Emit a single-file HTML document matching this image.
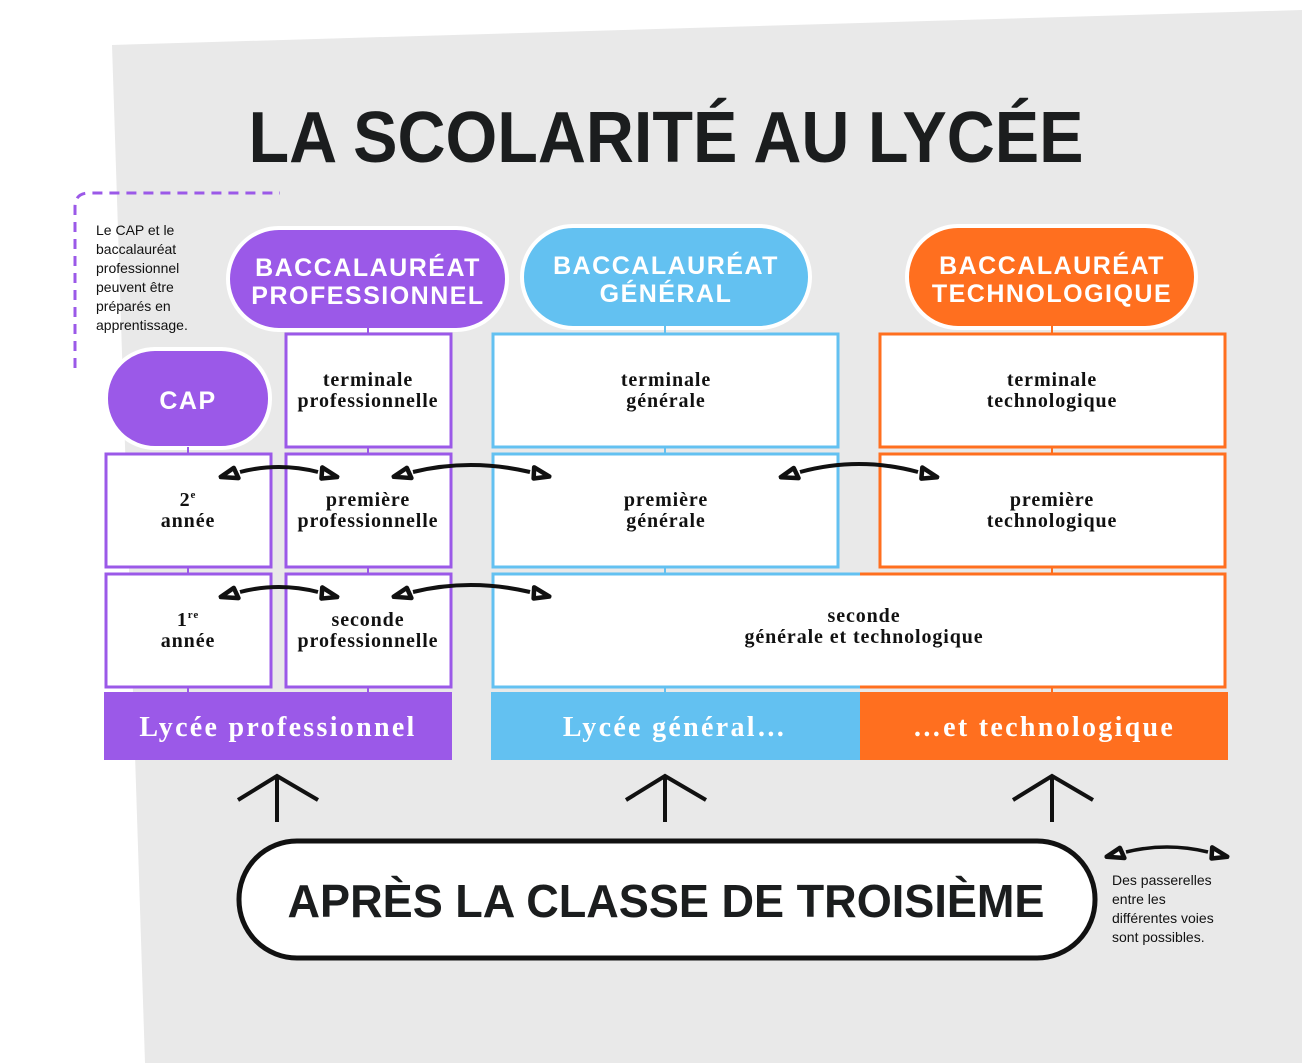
<!DOCTYPE html>
<html><head><meta charset="utf-8"><style>
html,body{margin:0;padding:0;background:#fff;}
svg{display:block;}
.t{font-family:"Liberation Sans",sans-serif;font-weight:bold;}
.s{font-family:"Liberation Serif",serif;font-weight:bold;font-size:20px;fill:#111;text-anchor:middle;letter-spacing:0.9px;}
.p{font-family:"Liberation Sans",sans-serif;font-weight:bold;font-size:25px;fill:#fff;text-anchor:middle;letter-spacing:1.5px;}
.n{font-family:"Liberation Sans",sans-serif;font-size:14px;fill:#111;}
</style></head><body>
<svg width="1302" height="1063" viewBox="0 0 1302 1063" xmlns="http://www.w3.org/2000/svg">
<defs>
<marker id="h" viewBox="0 0 24 16" refX="2" refY="8" markerWidth="24" markerHeight="16" markerUnits="userSpaceOnUse" orient="auto-start-reverse">
<polygon points="22,8 5,2.5 7,13.5" fill="#fff" stroke="#111" stroke-width="4.5" stroke-linejoin="round"/>
</marker>
</defs>
<polygon points="112,45 1302,10 1302,1063 145,1063" fill="#e9e9e9"/>
<text x="666" y="162" class="t" font-size="72" text-anchor="middle" fill="#1b1d1e" textLength="835" lengthAdjust="spacingAndGlyphs">LA SCOLARITÉ AU LYCÉE</text>

<path d="M75,368 V207 Q75,193 89,193 H280" fill="none" stroke="#9b59e8" stroke-width="3" stroke-dasharray="10,7"/>
<g class="n">
<text x="96" y="235">Le CAP et le</text>
<text x="96" y="254">baccalauréat</text>
<text x="96" y="273">professionnel</text>
<text x="96" y="292">peuvent être</text>
<text x="96" y="311">préparés en</text>
<text x="96" y="330">apprentissage.</text>
</g>

<rect x="228" y="228" width="279" height="102" rx="51" fill="#9b59e8" stroke="#fff" stroke-width="4"/>
<text x="368" y="276" class="p">BACCALAURÉAT</text>
<text x="368" y="304" class="p">PROFESSIONNEL</text>
<rect x="522" y="226" width="288" height="102" rx="51" fill="#63c1f1" stroke="#fff" stroke-width="4"/>
<text x="666" y="274" class="p">BACCALAURÉAT</text>
<text x="666" y="302" class="p">GÉNÉRAL</text>
<rect x="907" y="226" width="289" height="102" rx="51" fill="#ff6f1f" stroke="#fff" stroke-width="4"/>
<text x="1052" y="274" class="p">BACCALAURÉAT</text>
<text x="1052" y="302" class="p">TECHNOLOGIQUE</text>
<rect x="106" y="349" width="164" height="99" rx="49" fill="#9b59e8" stroke="#fff" stroke-width="4"/>
<text x="188" y="409" class="p" font-size="26">CAP</text>

<g fill="#fff" stroke-width="3">
<rect x="286" y="334" width="165" height="113" stroke="#9b59e8"/>
<rect x="106" y="454" width="165" height="113" stroke="#9b59e8"/>
<rect x="286" y="454" width="165" height="113" stroke="#9b59e8"/>
<rect x="106" y="574" width="165" height="113" stroke="#9b59e8"/>
<rect x="286" y="574" width="165" height="113" stroke="#9b59e8"/>
<rect x="493" y="334" width="345" height="113" stroke="#63c1f1"/>
<rect x="493" y="454" width="345" height="113" stroke="#63c1f1"/>
<rect x="880" y="334" width="345" height="113" stroke="#ff6f1f"/>
<rect x="880" y="454" width="345" height="113" stroke="#ff6f1f"/>
<rect x="493" y="574" width="732" height="113" stroke="none"/>
</g>
<g fill="none" stroke-width="3">
<path d="M860,574 H493 V687 H860" stroke="#63c1f1"/>
<path d="M860,574 H1225 V687 H860" stroke="#ff6f1f"/>
</g>
<g stroke-width="2">
<path d="M188,447 V454 M188,567 V574 M188,687 V692 M368,328 V334 M368,447 V454 M368,567 V574 M368,687 V692" stroke="#9b59e8"/>
<path d="M665,326 V334 M665,447 V454 M665,567 V574 M665,687 V692" stroke="#63c1f1"/>
<path d="M1052,326 V334 M1052,447 V454 M1052,567 V574 M1052,687 V692" stroke="#ff6f1f"/>
</g>

<g class="s">
<text x="368" y="386">terminale</text><text x="368" y="407">professionnelle</text>
<text x="666" y="386">terminale</text><text x="666" y="407">générale</text>
<text x="1052" y="386">terminale</text><text x="1052" y="407">technologique</text>
<text x="188" y="506">2<tspan font-size="11" dy="-8">e</tspan></text><text x="188" y="527">année</text>
<text x="368" y="506">première</text><text x="368" y="527">professionnelle</text>
<text x="666" y="506">première</text><text x="666" y="527">générale</text>
<text x="1052" y="506">première</text><text x="1052" y="527">technologique</text>
<text x="188" y="626">1<tspan font-size="11" dy="-8">re</tspan></text><text x="188" y="647">année</text>
<text x="368" y="626">seconde</text><text x="368" y="647">professionnelle</text>
<text x="864" y="622">seconde</text><text x="864" y="643">générale et technologique</text>
</g>

<rect x="104" y="692" width="348" height="68" fill="#9b59e8"/>
<rect x="491" y="692" width="369" height="68" fill="#63c1f1"/>
<rect x="860" y="692" width="368" height="68" fill="#ff6f1f"/>
<g font-family="'Liberation Serif',serif" font-weight="bold" font-size="28" fill="#fff" text-anchor="middle" letter-spacing="2.3">
<text x="278" y="736">Lycée professionnel</text>
<text x="675" y="736">Lycée général…</text>
<text x="1044" y="736">…et technologique</text>
</g>

<g fill="none" stroke="#111" stroke-width="4" marker-start="url(#h)" marker-end="url(#h)">
<path d="M240,472 Q279,462 318,472"/>
<path d="M413,472 Q470,458 530,472"/>
<path d="M800,472 Q859,456 918,472"/>
<path d="M240,592 Q279,582 318,592"/>
<path d="M413,592 Q470,578 530,592"/>
<path d="M1126,852 Q1167,842 1208,852" stroke-width="3.5"/>
</g>

<g fill="none" stroke="#111" stroke-width="4">
<path d="M277,822 V776 M238,800 L277,776 L318,800"/>
<path d="M665,822 V776 M626,800 L665,776 L706,800"/>
<path d="M1052,822 V776 M1013,800 L1052,776 L1093,800"/>
</g>

<rect x="239" y="841" width="856" height="117" rx="58" fill="#fff" stroke="#111" stroke-width="5"/>
<text x="666" y="917" class="t" font-size="46" text-anchor="middle" fill="#1b1d1e" textLength="757" lengthAdjust="spacingAndGlyphs">APRÈS LA CLASSE DE TROISIÈME</text>

<g class="n">
<text x="1112" y="885">Des passerelles</text>
<text x="1112" y="904">entre les</text>
<text x="1112" y="923">différentes voies</text>
<text x="1112" y="942">sont possibles.</text>
</g>
</svg>
</body></html>
